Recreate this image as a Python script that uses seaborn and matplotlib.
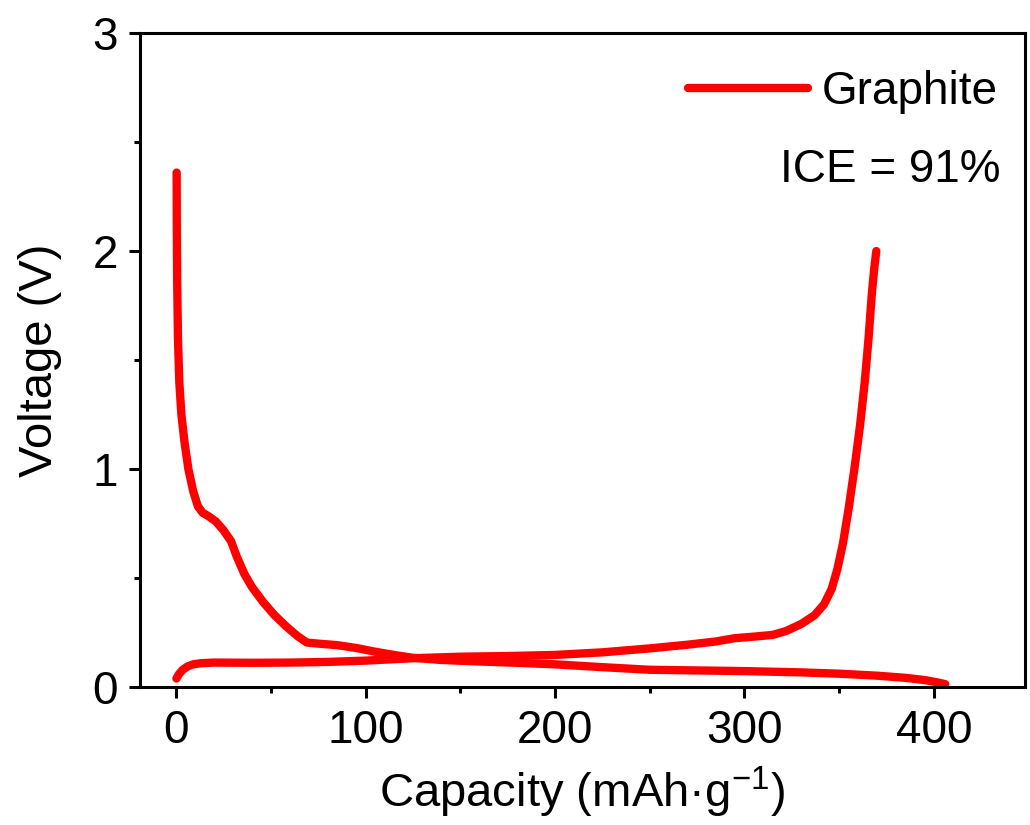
import numpy as np
import pandas as pd
import seaborn as sns
import matplotlib.pyplot as plt
from matplotlib.ticker import MultipleLocator

# discharge (lithiation) branch
dis_cap = [0.3, 0.4, 0.6, 1.0, 1.7, 2.8, 4.5, 6.5, 9, 11.5, 14, 17, 21, 25, 29, 32, 36, 40,
           46, 52, 58, 64, 69, 75, 85, 95, 105, 115, 125, 140, 160, 180, 200, 225, 250,
           275, 300, 330, 350, 370, 385, 395, 402, 406]
dis_volt = [2.36, 2.1, 1.85, 1.6, 1.4, 1.25, 1.12, 1.0, 0.9, 0.83, 0.8, 0.785, 0.76, 0.72,
            0.67, 0.6, 0.52, 0.46, 0.39, 0.33, 0.28, 0.235, 0.205, 0.2, 0.193, 0.18, 0.163,
            0.148, 0.135, 0.125, 0.118, 0.112, 0.105, 0.092, 0.08, 0.077, 0.074, 0.068,
            0.062, 0.053, 0.043, 0.033, 0.022, 0.014]

# charge (delithiation) branch
chg_cap = [0.2, 1.5, 3.5, 6, 9, 13, 20, 40, 60, 80, 100, 125, 150, 175, 200, 225, 250, 270,
           285, 295, 305, 315, 322, 330, 337, 342, 346, 349, 352, 355, 358, 361, 363.5,
           365.5, 367.2, 368.5, 369.6]
chg_volt = [0.04, 0.06, 0.08, 0.095, 0.105, 0.11, 0.113, 0.112, 0.113, 0.116, 0.122, 0.133,
            0.14, 0.143, 0.148, 0.16, 0.178, 0.195, 0.21, 0.225, 0.232, 0.24, 0.258, 0.29,
            0.33, 0.38, 0.45, 0.54, 0.66, 0.82, 1.0, 1.2, 1.4, 1.6, 1.8, 1.92, 2.0]

plt.rcParams['font.family'] = ['Liberation Sans', 'DejaVu Sans']

fig = plt.figure(figsize=(10.3, 8.25), dpi=100)
ax = fig.add_axes([0.136, 0.167, 0.859, 0.793])

dis = pd.DataFrame({'cap': dis_cap, 'volt': dis_volt})
chg = pd.DataFrame({'cap': chg_cap, 'volt': chg_volt})
sns.lineplot(data=dis, x='cap', y='volt', sort=False, color='#ff0000', lw=6,
             label='Graphite', ax=ax, solid_capstyle='round', solid_joinstyle='round')
sns.lineplot(data=chg, x='cap', y='volt', sort=False, color='#ff0000', lw=6,
             ax=ax, solid_capstyle='round', solid_joinstyle='round')

ax.set_xlim(-19, 448)
ax.set_ylim(0, 3)
ax.xaxis.set_major_locator(MultipleLocator(100))
ax.xaxis.set_minor_locator(MultipleLocator(50))
ax.yaxis.set_major_locator(MultipleLocator(1))
ax.yaxis.set_minor_locator(MultipleLocator(0.5))
ax.tick_params(which='major', direction='out', length=8, width=2.2, labelsize=33, pad=8)
ax.tick_params(which='minor', direction='out', length=4.5, width=2.2)
for s in ax.spines.values():
    s.set_linewidth(2.2)

ax.set_xlabel('Capacity (mAh·g$^{\\mathregular{-1}}$)', fontsize=34, labelpad=8)
ax.set_ylabel('Voltage (V)', fontsize=34, labelpad=22)

leg = ax.legend(loc='upper right', frameon=False, fontsize=33, handlelength=2.6,
                handletextpad=0.3, borderaxespad=0.2, bbox_to_anchor=(1.0, 0.985))
ax.text(0.973, 0.79, 'ICE = 91%', transform=ax.transAxes, ha='right', va='center', fontsize=33)

fig.savefig('out.png', dpi=100)
